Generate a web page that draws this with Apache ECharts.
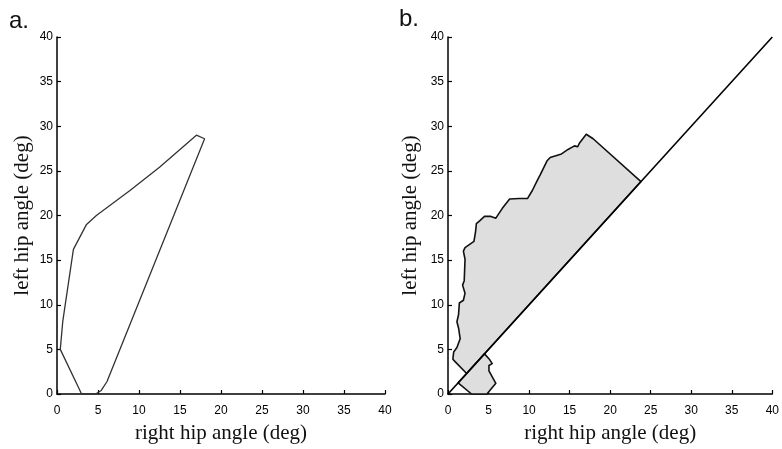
<!DOCTYPE html>
<html>
<head>
<meta charset="utf-8">
<script src="https://cdn.jsdelivr.net/npm/echarts@6/dist/echarts.min.js"></script>
<style>
  html, body { margin: 0; padding: 0; background: #fff; }
  #chart { width: 782px; height: 449px; }
</style>
</head>
<body>
<div id="chart"></div>
<script>
// Axis range and tick step (degrees)
const axisMin = 0;
const axisMax = 40;
const tickStep = 5;

// Panel a: outline of the right/left hip angle trajectory
const hullA = [
  [3.0, 0], [0.4, 5.0], [0.7, 8.1], [2.0, 16.2], [3.6, 19.0], [4.8, 20.0],
  [8.9, 22.8], [12.5, 25.4], [17.0, 29.0], [18.0, 28.6], [6.1, 1.4],
  [5.4, 0.4], [4.8, 0.05], [3.0, 0]
];

// Panel b: region above the identity line
const regionUpper = [
  [23.8, 23.8], [17.9, 28.6], [17.05, 29.1], [16.2, 28.1], [16.0, 27.7],
  [15.6, 27.8], [14.8, 27.4], [14.0, 26.9], [13.3, 26.7], [12.6, 26.5],
  [12.2, 26.1], [11.4, 24.6], [11.0, 23.9], [10.4, 22.8], [9.8, 21.9],
  [8.8, 21.9], [7.6, 21.85], [6.7, 20.8], [5.9, 19.7], [5.3, 19.9],
  [4.5, 19.9], [3.9, 19.4], [3.5, 19.1], [3.4, 18.2], [3.2, 17.1],
  [2.1, 16.4], [1.9, 16.0], [2.1, 15.1], [2.0, 12.7], [1.8, 12.2],
  [2.1, 11.3], [1.9, 10.5], [1.4, 10.2], [1.3, 8.9], [1.1, 8.1],
  [1.3, 7.4], [1.5, 6.2], [1.1, 5.2], [0.7, 4.7], [0.6, 3.9],
  [0.9, 3.6], [2.3, 2.3]
];

// Panel b: region below the identity line
const regionLower = [
  [1.25, 1.25], [4.5, 4.5], [5.1, 3.9], [5.45, 3.4], [5.05, 3.2],
  [5.05, 2.6], [5.9, 1.2], [4.8, 0], [2.9, 0]
];

// Panel b: identity line
const identityLine = [[0, 0], [40, 40]];

const xTitle = 'right hip angle (deg)';
const yTitle = 'left hip angle (deg)';

const chart = echarts.init(document.getElementById('chart'), null, { renderer: 'canvas' });

function valueAxis(gridIndex, name, isX, gap) {
  return {
    type: 'value',
    gridIndex: gridIndex,
    min: axisMin,
    max: axisMax,
    interval: tickStep,
    name: name,
    nameLocation: 'middle',
    nameGap: gap,
    nameTextStyle: {
      fontFamily: 'Liberation Serif',
      fontSize: 21,
      color: '#111'
    },
    axisLine: { show: true, onZero: false, lineStyle: { color: '#000', width: 1.5 } },
    axisTick: { show: true, inside: true, length: 4, lineStyle: { color: '#000', width: 1.2 } },
    axisLabel: {
      show: true,
      margin: isX ? 11 : 4,
      fontFamily: 'Liberation Sans',
      fontSize: 12,
      color: '#000'
    },
    splitLine: { show: false }
  };
}

function polygonSeries(points, gridIdx, fill, stroke, width, z) {
  return {
    type: 'custom',
    coordinateSystem: 'cartesian2d',
    xAxisIndex: gridIdx,
    yAxisIndex: gridIdx,
    data: points,
    silent: true,
    animation: false,
    z: z,
    renderItem: function (params, api) {
      if (params.dataIndex !== 0) return null;
      return {
        type: 'polygon',
        shape: { points: points.map(function (p) { return api.coord(p); }) },
        style: { fill: fill, stroke: stroke, lineWidth: width, lineJoin: 'round' }
      };
    }
  };
}

const option = {
  backgroundColor: '#fff',
  animation: false,
  grid: [
    { left: 57, top: 37, width: 328, height: 364 },
    { left: 448, top: 37, width: 330, height: 364 }
  ],
  xAxis: [valueAxis(0, xTitle, true, 29), valueAxis(1, xTitle, true, 29)],
  yAxis: [valueAxis(0, yTitle, false, 24), valueAxis(1, yTitle, false, 27)],
  graphic: [
    { type: 'text', left: 9, top: 9, style: { text: 'a.', font: '24px "Liberation Sans"', fill: '#111' } },
    { type: 'text', left: 399, top: 7, style: { text: 'b.', font: '24px "Liberation Sans"', fill: '#111' } }
  ],
  series: [
    {
      type: 'line',
      xAxisIndex: 0,
      yAxisIndex: 0,
      data: hullA,
      symbol: 'none',
      smooth: false,
      lineStyle: { color: '#333', width: 1.3 },
      z: 3
    },
    polygonSeries(regionUpper, 1, '#dedede', '#111', 1.6, 2),
    polygonSeries(regionLower, 1, '#dedede', '#111', 1.6, 2),
    {
      type: 'line',
      xAxisIndex: 1,
      yAxisIndex: 1,
      data: identityLine,
      symbol: 'none',
      lineStyle: { color: '#000', width: 1.6 },
      z: 4
    }
  ]
};

chart.setOption(option);
</script>
</body>
</html>
